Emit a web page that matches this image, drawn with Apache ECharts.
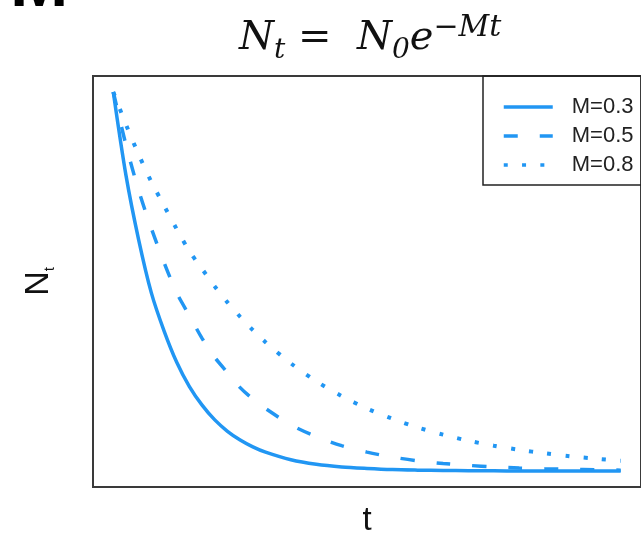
<!DOCTYPE html>
<html>
<head>
<meta charset="utf-8">
<script src="https://cdn.jsdelivr.net/npm/echarts@6/dist/echarts.min.js"></script>
<style>
  html, body { margin: 0; padding: 0; background: #fff; }
  #chart { width: 641px; height: 542px; }
</style>
</head>
<body>
<div id="chart"></div>
<script>
// Time steps along the horizontal axis
const tValues = [0, 0.25, 0.5, 0.75, 1, 1.25, 1.5, 1.75, 2, 2.25, 2.5, 2.75, 3, 3.5, 4, 4.5, 5, 5.5, 6, 6.5, 7, 7.5, 8, 8.5, 9, 9.5, 10];

// Population remaining N_t for each mortality rate
const nM03 = [1.00, 0.78, 0.61, 0.47, 0.37, 0.287, 0.223, 0.174, 0.135, 0.105, 0.082, 0.064, 0.050, 0.030, 0.018, 0.011, 0.007, 0.004, 0.0025, 0.0015, 0.001, 0.0006, 0.0003, 0.0002, 0.0001, 0.0001, 0.0];
const nM05 = [1.00, 0.86, 0.74, 0.64, 0.55, 0.47, 0.41, 0.35, 0.30, 0.26, 0.22, 0.19, 0.165, 0.122, 0.091, 0.067, 0.050, 0.037, 0.027, 0.020, 0.015, 0.011, 0.008, 0.006, 0.0045, 0.0033, 0.0025];
const nM08 = [1.00, 0.914, 0.835, 0.763, 0.70, 0.638, 0.58, 0.533, 0.487, 0.445, 0.407, 0.372, 0.34, 0.284, 0.237, 0.198, 0.165, 0.138, 0.115, 0.096, 0.080, 0.067, 0.056, 0.047, 0.039, 0.033, 0.027];

const seriesNames = ['M=0.3', 'M=0.5', 'M=0.8'];

const BLUE = '#2196f3';

function pairs(ys) {
  return tValues.map((t, i) => [t, ys[i]]);
}

const chart = echarts.init(document.getElementById('chart'), null, { renderer: 'canvas' });

const serif = { fontFamily: 'DejaVu Serif', fontWeight: 'normal', color: '#111' };

chart.setOption({
  animation: false,
  backgroundColor: '#ffffff',
  title: {
    text: '{v|N}{sub|t}{op| =  }{v|N}{sub|0}{v|e}{sup|\u2212Mt}',
    left: 234,
    top: 8,
    textStyle: {
      fontWeight: 'normal',
      rich: {
        v:   Object.assign({ fontStyle: 'italic', fontSize: 40, lineHeight: 52, verticalAlign: 'middle' }, serif),
        op:  Object.assign({ fontSize: 40, lineHeight: 52, verticalAlign: 'middle' }, serif),
        sub: Object.assign({ fontStyle: 'italic', fontSize: 28, lineHeight: 24, verticalAlign: 'bottom' }, serif),
        sup: Object.assign({ fontStyle: 'italic', fontSize: 30, lineHeight: 28, verticalAlign: 'top' }, serif)
      }
    }
  },
  graphic: [
    {
      type: 'text',
      left: 10,
      top: -48,
      style: { text: 'M', font: 'bold 70px "Liberation Sans", Arial, sans-serif', fill: '#000' }
    }
  ],
  legend: {
    orient: 'vertical',
    left: 483,
    top: 76,
    padding: [20, 20, 9, 19],
    itemWidth: 49,
    itemHeight: 2,
    itemGap: 7,
    borderColor: '#222',
    borderWidth: 1.5,
    itemStyle: { opacity: 0 },
    lineStyle: { width: 3.5 },
    textStyle: { fontFamily: 'Liberation Sans', fontSize: 22, color: '#222', padding: [0, 0, 0, 14] },
    data: seriesNames
  },
  grid: {
    show: true,
    left: 93,
    right: -10,
    top: 76,
    bottom: 55,
    borderColor: '#3a3a3a',
    borderWidth: 2
  },
  xAxis: {
    type: 'value',
    min: -0.4,
    max: 10.4,
    name: 't',
    nameLocation: 'middle',
    nameGap: 17,
    nameTextStyle: { fontFamily: 'Liberation Sans', fontSize: 33, color: '#111' },
    axisLine: { show: false },
    axisTick: { show: false },
    axisLabel: { show: false },
    splitLine: { show: false }
  },
  yAxis: {
    type: 'value',
    min: -0.042,
    max: 1.042,
    name: '{n|N}{s|t}',
    nameLocation: 'middle',
    nameRotate: 90,
    nameGap: 36,
    nameTextStyle: {
      rich: {
        n: { fontFamily: 'Liberation Sans', fontSize: 34, color: '#111', lineHeight: 36, verticalAlign: 'middle' },
        s: { fontFamily: 'Liberation Sans', fontSize: 15, color: '#111', lineHeight: 15, verticalAlign: 'bottom' }
      }
    },
    axisLine: { show: false },
    axisTick: { show: false },
    axisLabel: { show: false },
    splitLine: { show: false }
  },
  series: [
    {
      name: seriesNames[0],
      type: 'line',
      data: pairs(nM03),
      smooth: 0.3,
      showSymbol: false,
      symbol: 'none',
      lineStyle: { color: BLUE, width: 3.5, type: 'solid' },
      itemStyle: { color: BLUE }
    },
    {
      name: seriesNames[1],
      type: 'line',
      data: pairs(nM05),
      smooth: 0.3,
      showSymbol: false,
      symbol: 'none',
      lineStyle: { color: BLUE, width: 3.5, type: [14, 22], cap: 'butt' },
      itemStyle: { color: BLUE }
    },
    {
      name: seriesNames[2],
      type: 'line',
      data: pairs(nM08),
      smooth: 0.3,
      showSymbol: false,
      symbol: 'none',
      lineStyle: { color: BLUE, width: 4, type: [4, 14.3], cap: 'butt' },
      itemStyle: { color: BLUE }
    }
  ]
});
</script>
</body>
</html>
